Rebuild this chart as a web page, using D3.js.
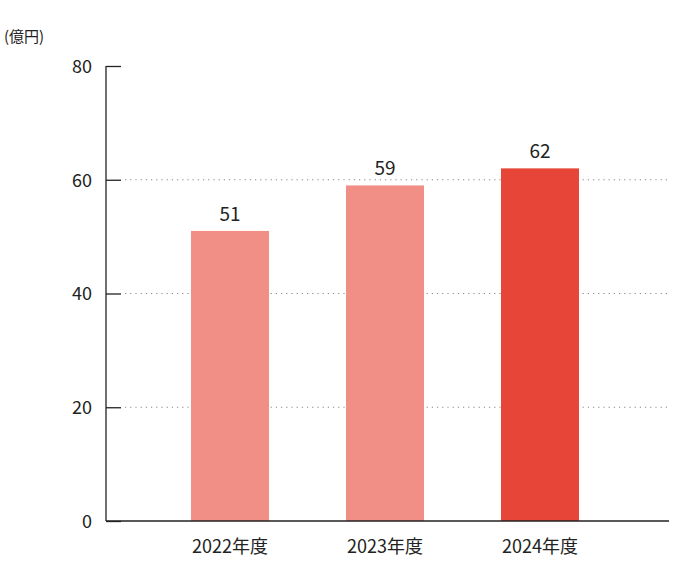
<!DOCTYPE html>
<html><head><meta charset="utf-8">
<script src="https://cdn.jsdelivr.net/npm/d3@7/dist/d3.min.js"></script>
<style>body{margin:0;background:#fff}text{font-family:"Noto Sans CJK JP","Noto Sans",sans-serif;fill:#222}</style>
</head><body><svg id="c" width="674" height="574"></svg>
<script>
const categories=["2022年度","2023年度","2024年度"];
const values=[51,59,62];
const colors=["#f18f87","#f18f87","#e64537"];
const yTicks=[0,20,40,60,80];
const svg=d3.select("#c");
const y=d3.scaleLinear().domain([0,80]).range([521,66]);
const x=d3.scalePoint().domain(categories).range([230,540]);
const bw=78;
svg.append("text").attr("x",4).attr("y",42).attr("font-size",15).text("(億円)");
yTicks.filter(t=>t>0&&t<80).forEach(t=>{
 svg.append("line").attr("x1",125).attr("x2",669).attr("y1",y(t)).attr("y2",y(t))
  .attr("stroke","#888").attr("stroke-width",1.2).attr("stroke-dasharray","1.2,4");
});
const ax=svg.append("g").attr("transform","translate(106,0)")
 .call(d3.axisLeft(y).tickValues(yTicks).tickSize(6).tickPadding(8));
ax.select(".domain").attr("stroke","#222").attr("stroke-width",1.3).attr("d","M0,"+y(80)+"V"+y(0));
ax.selectAll(".tick line").attr("stroke","#222").attr("stroke-width",1.3).attr("x2",-0).attr("x1",0).attr("x2",16).attr("transform","translate(0,0)");
ax.selectAll(".tick line").attr("x1",-0).attr("x2",15);
ax.selectAll(".tick text").attr("font-size",18).attr("x",-14).attr("dy","0.35em");
svg.selectAll("rect.bar").data(values).enter().append("rect")
 .attr("x",(d,i)=>x(categories[i])-bw/2).attr("width",bw)
 .attr("y",d=>y(d)).attr("height",d=>y(0)-y(d)).attr("fill",(d,i)=>colors[i]);
svg.selectAll("text.val").data(values).enter().append("text")
 .attr("x",(d,i)=>x(categories[i])).attr("y",d=>y(d)-10).attr("text-anchor","middle")
 .attr("font-size",19).text(d=>d);
svg.append("line").attr("x1",106).attr("x2",669).attr("y1",y(0)).attr("y2",y(0)).attr("stroke","#222").attr("stroke-width",1.3);
svg.selectAll("text.cat").data(categories).enter().append("text")
 .attr("x",d=>x(d)).attr("y",553).attr("text-anchor","middle").attr("font-size",18).text(d=>d);
</script></body></html>
